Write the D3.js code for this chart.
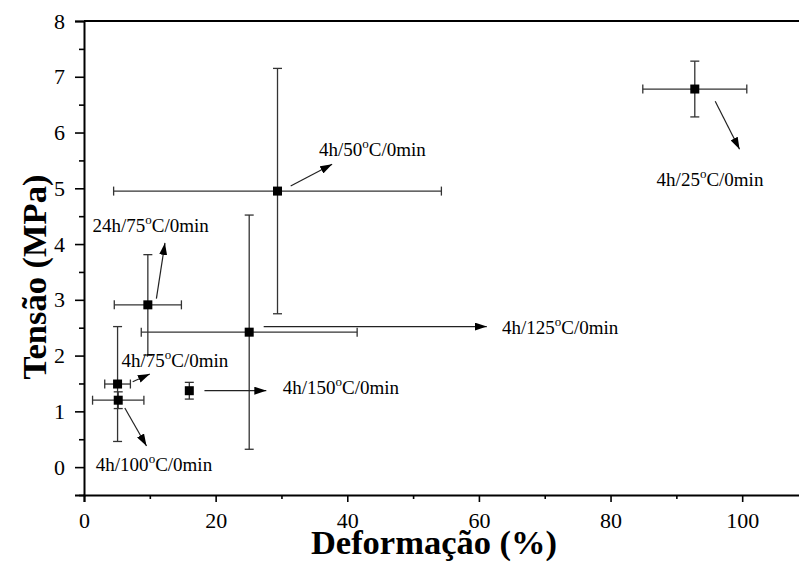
<!DOCTYPE html>
<html>
<head>
<meta charset="utf-8">
<script src="https://cdn.jsdelivr.net/npm/d3@7"></script>
<style>
    body { margin: 0; background: #fff; }
    svg { display: block; font-family: "Liberation Serif", "Times New Roman", serif; }
</style>
</head>
<body>
<script>
// condições de tratamento (rótulos) e valores
var condicoes = ['4h/25', '4h/50', '24h/75', '4h/75', '4h/100', '4h/125', '4h/150'];
var deformacao = [92.8, 29.4, 9.7, 5.1, 5.2, 25.1, 16.0];
var tensao = [6.78, 4.95, 2.91, 1.49, 1.20, 2.42, 1.37];
var erroX = [7.9, 24.9, 5.1, 1.95, 3.9, 16.4, 0];
var erroY = [0.5, 2.2, 0.9, 1.03, 0.15, 2.1, 0.15];

// setas das anotações (em unidades dos dados) e posição do texto
var setaDe = [[95.9, 6.56], [31.4, 5.04], [11.0, 3.02], [7.4, 1.53], [6.2, 1.06], [27.3, 2.52], [18.3, 1.37]];
var setaPara = [[99.6, 5.70], [37.7, 5.43], [12.3, 4.02], [10.0, 1.67], [9.5, 0.38], [61.2, 2.52], [27.7, 1.37]];
var textoPos = [[87.0, 5.04], [35.7, 5.58], [1.3, 4.21], [5.7, 1.79], [1.8, -0.07], [63.5, 2.39], [30.2, 1.31]];

var xTicks = [0, 20, 40, 60, 80, 100];
var xMinor = [10, 30, 50, 70, 90];
var yTicks = [0, 1, 2, 3, 4, 5, 6, 7, 8];
var yMinor = [-0.5, 0.5, 1.5, 2.5, 3.5, 4.5, 5.5, 6.5, 7.5];

var width = 799, height = 562;
var mLeft = 84, mRight = 808, mTop = 21, mBottom = 495;

var svg = d3.select('body').append('svg')
    .attr('width', width)
    .attr('height', height);

var x = d3.scaleLinear().domain([0, 110]).range([mLeft, mRight]);
var y = d3.scaleLinear().domain([-0.5, 8]).range([mBottom, mTop]);

// eixos
var axisx = d3.axisBottom(x).tickValues(xTicks).tickSize(7).tickPadding(10).tickFormat(d3.format('d'));
svg.append('g').attr('transform', `translate(0,${mBottom})`).call(axisx);
svg.append('g').attr('transform', `translate(0,${mBottom})`)
    .call(d3.axisBottom(x).tickValues(xMinor).tickSize(4).tickFormat(''))
    .select('.domain').remove();

var axisy = d3.axisLeft(y).tickValues(yTicks).tickSize(9).tickPadding(10).tickFormat(d3.format('d'));
svg.append('g').attr('transform', `translate(${mLeft},0)`).call(axisy);
svg.append('g').attr('transform', `translate(${mLeft},0)`)
    .call(d3.axisLeft(y).tickValues(yMinor).tickSize(5).tickFormat(''))
    .select('.domain').remove();

svg.selectAll('.domain').attr('stroke-width', 2);
svg.selectAll('.tick line').attr('stroke-width', 1.6);
svg.selectAll('.tick text')
    .attr('font-family', '"Liberation Serif", serif')
    .attr('font-size', 22)
    .attr('fill', '#000');

// linha superior
svg.append('line')
    .attr('x1', mLeft).attr('x2', width)
    .attr('y1', mTop).attr('y2', mTop)
    .attr('stroke', '#000').attr('stroke-width', 2);

// títulos
svg.append('text')
    .attr('x', 434).attr('y', 554)
    .attr('text-anchor', 'middle')
    .attr('font-weight', 'bold')
    .attr('font-size', 34.5)
    .text('Deformação (%)');

svg.append('text')
    .attr('transform', 'translate(46,277) rotate(-90)')
    .attr('text-anchor', 'middle')
    .attr('font-weight', 'bold')
    .attr('font-size', 34.5)
    .text('Tensão (MPa)');

// barras de erro
var cap = 4.5;
var errCor = '#333';
var pts = d3.range(condicoes.length);

var eb = svg.append('g').attr('stroke', errCor).attr('stroke-width', 1.3);
pts.forEach(i => {
    var cx = x(deformacao[i]), cy = y(tensao[i]);
    if (erroX[i] > 0) {
        var x0 = x(deformacao[i] - erroX[i]), x1 = x(deformacao[i] + erroX[i]);
        eb.append('line').attr('x1', x0).attr('x2', x1).attr('y1', cy).attr('y2', cy);
        eb.append('line').attr('x1', x0).attr('x2', x0).attr('y1', cy - cap).attr('y2', cy + cap);
        eb.append('line').attr('x1', x1).attr('x2', x1).attr('y1', cy - cap).attr('y2', cy + cap);
    }
    if (erroY[i] > 0) {
        var y0 = y(tensao[i] - erroY[i]), y1 = y(tensao[i] + erroY[i]);
        eb.append('line').attr('x1', cx).attr('x2', cx).attr('y1', y0).attr('y2', y1);
        eb.append('line').attr('x1', cx - cap).attr('x2', cx + cap).attr('y1', y0).attr('y2', y0);
        eb.append('line').attr('x1', cx - cap).attr('x2', cx + cap).attr('y1', y1).attr('y2', y1);
    }
});

// pontos
svg.selectAll('rect.pt')
    .data(pts).enter()
    .append('rect')
    .attr('class', 'pt')
    .attr('x', i => x(deformacao[i]) - 4.5)
    .attr('y', i => y(tensao[i]) - 4.5)
    .attr('width', 9)
    .attr('height', 9)
    .attr('fill', '#000');

// setas
svg.append('defs').append('marker')
    .attr('id', 'seta')
    .attr('viewBox', '0 0 12 8')
    .attr('refX', 12).attr('refY', 4)
    .attr('markerWidth', 12).attr('markerHeight', 8)
    .attr('markerUnits', 'userSpaceOnUse')
    .attr('orient', 'auto')
    .append('path')
    .attr('d', 'M0,0 L12,4 L0,8 Z')
    .attr('fill', '#000');

svg.selectAll('line.seta')
    .data(pts).enter()
    .append('line')
    .attr('class', 'seta')
    .attr('x1', i => x(setaDe[i][0])).attr('y1', i => y(setaDe[i][1]))
    .attr('x2', i => x(setaPara[i][0])).attr('y2', i => y(setaPara[i][1]))
    .attr('stroke', '#222')
    .attr('stroke-width', 1.2)
    .attr('marker-end', 'url(#seta)');

// rótulos com "o" sobrescrito
var rot = svg.selectAll('text.rot')
    .data(pts).enter()
    .append('text')
    .attr('class', 'rot')
    .attr('x', i => x(textoPos[i][0]))
    .attr('y', i => y(textoPos[i][1]))
    .attr('font-size', 19)
    .attr('fill', '#000');
rot.append('tspan').text(i => condicoes[i]);
rot.append('tspan').attr('font-size', 13).attr('dy', -8).text('o');
rot.append('tspan').attr('dy', 8).text('C/0min');
</script>
</body>
</html>
